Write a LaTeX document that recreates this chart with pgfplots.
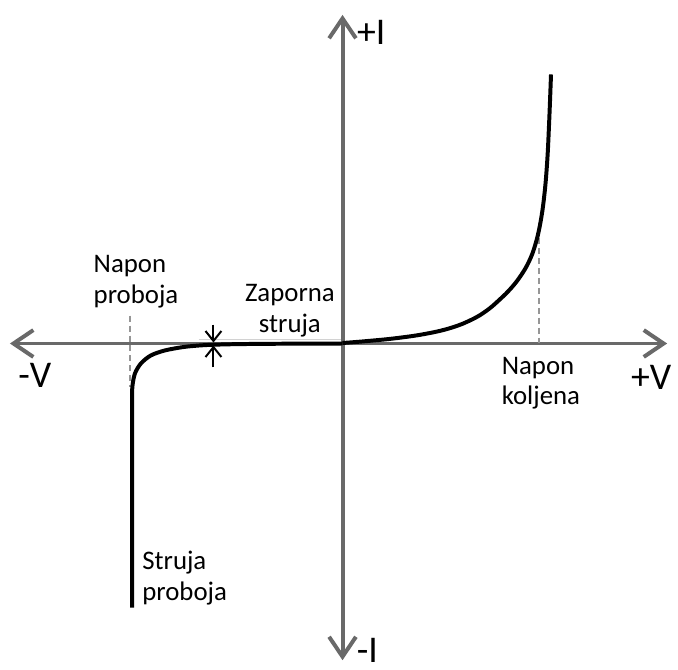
\documentclass[border=0pt]{standalone}
\usepackage{fontspec}
\setmainfont{Carlito}
\usepackage{pgfplots}
\pgfplotsset{compat=1.18}
\usetikzlibrary{arrows.meta}
\definecolor{axgray}{RGB}{105,105,105}
\definecolor{dashgray}{RGB}{150,150,150}
\begin{document}
\begin{tikzpicture}
\begin{axis}[
    scale only axis,
    width=339pt, height=336.5pt,
    xmin=0, xmax=678, ymin=0, ymax=673,
    hide axis, clip=false,
]
% frame for the page size
\addplot[draw=none] coordinates {(0,0) (678,673)};

% axes (pixel coordinates, y = 673 - row)
\addplot[axgray, line width=2pt, {Straight Barb[length=10pt,width=13.5pt,line width=2pt]}-{Straight Barb[length=10pt,width=13.5pt,line width=2pt]}]
    coordinates {(10,327) (672,327)};
\addplot[axgray, line width=2pt, {Straight Barb[length=10pt,width=13.5pt,line width=2pt]}-{Straight Barb[length=10pt,width=13.5pt,line width=2pt]}]
    coordinates {(345,8) (345,658)};

% faint edge of the label box
\addplot[gray!35, line width=0.4pt] coordinates {(200,331) (343,331)};

% dashed guides
\addplot[dashgray, line width=0.7pt, dash pattern=on 3pt off 2pt] coordinates {(131,355) (131,283)};
\addplot[dashgray, line width=0.7pt, dash pattern=on 3pt off 2pt] coordinates {(543,433) (543,328)};

% diode characteristic, reverse part
\addplot[black, line width=2pt, smooth, tension=0.5] coordinates {
(133,61) (133,200) (133,270) (133.5,285) (136,297) (142,307) (152,315)
(166,320) (185,323.5) (205,325.3) (230,326.2) (270,326.7) (345,327)
};
% forward part
\addplot[black, line width=2pt, smooth, tension=0.7] coordinates {
(345,327.5) (370,329.5) (400,332.5) (430,337) (455,343) (475,351) (490,360)
(503,371) (515,383) (525,396) (533,410) (539,426) (544,447) (548,474)
(551,508) (553,547) (555,598)
};

% marker at the reverse current
\addplot[black, line width=1pt, -{Straight Barb[length=5pt,width=8pt,line width=1pt]}]
    coordinates {(215,346) (215,328)};
\addplot[black, line width=1pt, -{Straight Barb[length=5pt,width=8pt,line width=1pt]}]
    coordinates {(215,303) (215,325)};

% labels
\node[font=\fontsize{19}{22}\selectfont] at (axis cs:374,640) {+I};
\node[font=\fontsize{19}{22}\selectfont] at (axis cs:370,18) {-I};
\node[font=\fontsize{19}{22}\selectfont] at (axis cs:35,295) {-V};
\node[font=\fontsize{19}{22}\selectfont] at (axis cs:656,293) {+V};
\node[font=\fontsize{13.5}{15.5}\selectfont, align=left, anchor=west, inner sep=0pt]
    at (axis cs:94,389) {Napon\\proboja};
\node[font=\fontsize{13.5}{15.5}\selectfont, align=center, inner sep=0pt]
    at (axis cs:292,360) {Zaporna\\struja};
\node[font=\fontsize{13.5}{15.5}\selectfont, align=left, anchor=west, inner sep=0pt]
    at (axis cs:505,287) {Napon\\koljena};
\node[font=\fontsize{13.5}{15.5}\selectfont, align=left, anchor=west, inner sep=0pt]
    at (axis cs:143,91) {Struja\\proboja};
\end{axis}
\end{tikzpicture}
\end{document}
